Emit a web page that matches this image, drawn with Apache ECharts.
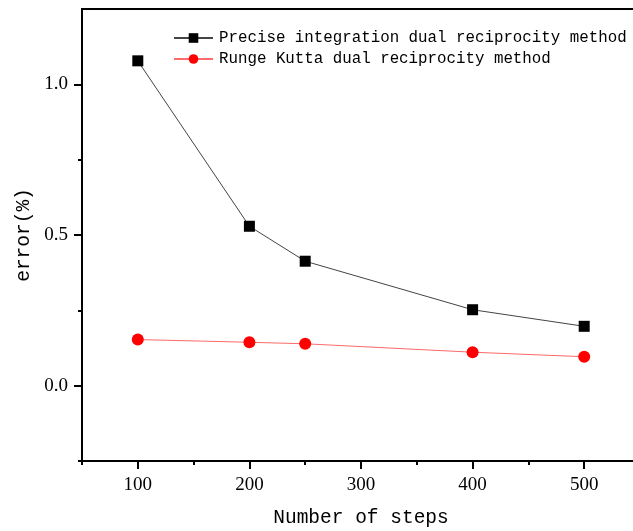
<!DOCTYPE html>
<html>
<head>
<meta charset="utf-8">
<script src="https://cdn.jsdelivr.net/npm/echarts@6/dist/echarts.min.js"></script>
<style>html,body{margin:0;padding:0;background:#fff;}#c{width:633px;height:531px;}</style>
</head>
<body>
<div id="c"></div>
<script>
var steps = [100, 200, 250, 400, 500];
var preciseErr = [1.078, 0.529, 0.413, 0.252, 0.197];
var rungeErr = [0.153, 0.144, 0.139, 0.111, 0.096];
var seriesNames = ['Precise integration dual reciprocity method', 'Runge Kutta dual reciprocity method'];
var xMajor = [100, 200, 300, 400, 500];
var xMinor = [50, 150, 250, 350, 450];
var yMajor = [0, 0.5, 1.0];
var yMinor = [-0.25, 0.25, 0.75];

var chart = echarts.init(document.getElementById('c'), null, {renderer: 'canvas'});
function pairs(xs, ys) { return xs.map(function (x, i) { return [x, ys[i]]; }); }
chart.setOption({
  animation: false,
  backgroundColor: '#fff',
  grid: {left: 82, top: 9, right: -7, bottom: 70, outerBoundsMode: 'none', containLabel: false,
    show: true, borderColor: '#000', borderWidth: 2, backgroundColor: 'transparent'},
  legend: {
    orient: 'vertical', left: 168, top: 25, itemWidth: 39, itemHeight: 12, itemGap: 5,
    textStyle: {fontFamily: 'Liberation Mono', fontSize: 15.8, color: '#000', padding: [0, 0, 0, 1]},
    data: seriesNames
  },
  xAxis: [{
    type: 'value', min: 50, max: 550, interval: 50,
    name: 'Number of steps', nameLocation: 'middle', nameGap: 47,
    nameTextStyle: {fontFamily: 'Liberation Mono', fontSize: 19.5, color: '#000'},
    axisLine: {show: true, onZero: false, lineStyle: {color: '#000', width: 2}},
    axisTick: {show: true, inside: false, length: 8, customValues: xMajor, lineStyle: {color: '#000', width: 2}},
    axisLabel: {show: true, margin: 15, customValues: xMajor, fontFamily: 'Liberation Serif', fontSize: 19, color: '#000'},
    splitLine: {show: false}
  }, {
    type: 'value', min: 50, max: 550, interval: 50, position: 'bottom',
    axisLine: {show: false, onZero: false},
    axisTick: {show: true, inside: false, length: 4, customValues: xMinor, lineStyle: {color: '#000', width: 2}},
    axisLabel: {show: false}, splitLine: {show: false}
  }],
  yAxis: [{
    type: 'value', min: -0.25, max: 1.25, interval: 0.25,
    name: 'error(%)', nameLocation: 'middle', nameGap: 48, nameRotate: 90,
    nameTextStyle: {fontFamily: 'Liberation Mono', fontSize: 19.5, color: '#000'},
    axisLine: {show: true, onZero: false, lineStyle: {color: '#000', width: 2}},
    axisTick: {show: true, inside: false, length: 8, customValues: yMajor, lineStyle: {color: '#000', width: 2}},
    axisLabel: {show: true, margin: 14, customValues: yMajor, fontFamily: 'Liberation Serif', fontSize: 19, color: '#000',
      formatter: function (v) { return v.toFixed(1); }},
    splitLine: {show: false}
  }, {
    type: 'value', min: -0.25, max: 1.25, interval: 0.25, position: 'left',
    axisLine: {show: false, onZero: false},
    axisTick: {show: true, inside: false, length: 4, customValues: yMinor, lineStyle: {color: '#000', width: 2}},
    axisLabel: {show: false}, splitLine: {show: false}
  }],
  series: [{
    name: seriesNames[0], type: 'line', data: pairs(steps, preciseErr),
    symbol: 'rect', symbolSize: 11,
    itemStyle: {color: '#000'}, lineStyle: {color: '#444', width: 1},
    z: 3
  }, {
    name: seriesNames[1], type: 'line', data: pairs(steps, rungeErr),
    symbol: 'circle', symbolSize: 12,
    itemStyle: {color: '#ff0000'}, lineStyle: {color: '#ff6a6a', width: 1},
    z: 3
  }]
});
</script>
</body>
</html>
